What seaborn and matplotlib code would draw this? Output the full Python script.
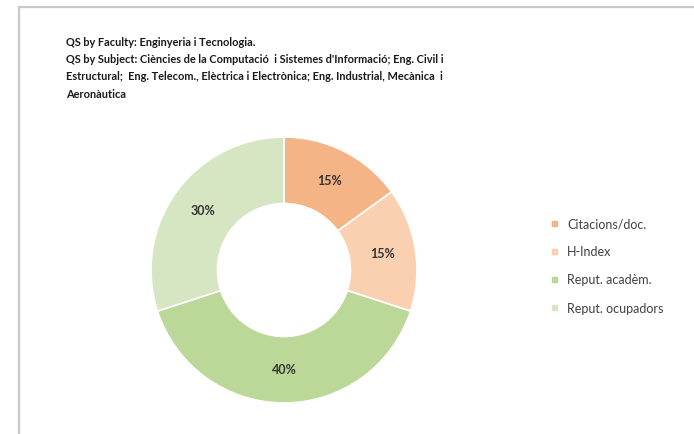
import matplotlib
matplotlib.use("Agg")
import matplotlib.pyplot as plt
import seaborn as sns
from matplotlib.lines import Line2D

# Dades del gràfic
categories = ["Citacions/doc.", "H-Index", "Reput. acadèm.", "Reput. ocupadors"]
weights = [15, 15, 40, 30]
colors = ["#F5B485", "#FAD0B0", "#BCD898", "#D7E6C2"]

title_lines = [
    "QS by Faculty: Enginyeria i Tecnologia.",
    "QS by Subject: Ciències de la Computació  i Sistemes d'Informació; Eng. Civil i",
    "Estructural;  Eng. Telecom., Elèctrica i Electrònica; Eng. Industrial, Mecànica  i",
    "Aeronàutica",
]

sns.set_theme(style="white")
plt.rcParams['font.family'] = ['Lato', 'DejaVu Sans']

fig = plt.figure(figsize=(6.94, 4.34), dpi=100)
fig.patch.set_facecolor("white")

# marc gris (vora superior i esquerra)
fig.add_artist(Line2D([19 / 694, 1.0], [1 - 7 / 434, 1 - 7 / 434], color="#c8c8c8", lw=1.6))
fig.add_artist(Line2D([19 / 694, 19 / 694], [0.0, 1 - 7 / 434], color="#c8c8c8", lw=1.6))

# títol
y0 = 42
for i, line in enumerate(title_lines):
    fig.text(66 / 694, 1 - (y0 + i * 17.5) / 434, line, fontsize=7.9, fontweight="bold",
             color="#1a1a1a", va="center", ha="left")

# donut
ax = fig.add_axes([(284 - 133) / 694, (434 - 270 - 133) / 434, 266 / 694, 266 / 434])
wedges, texts, autotexts = ax.pie(
    weights, colors=colors, startangle=90, counterclock=False,
    autopct="%d%%", pctdistance=0.75,
    wedgeprops=dict(width=0.5, edgecolor="white", linewidth=1.2),
    textprops=dict(fontsize=9, color="#333333", fontweight="bold"),
)
ax.set_xlim(-1, 1)
ax.set_ylim(-1, 1)
ax.set_aspect("equal")
ax.axis("off")

leg = fig.legend(wedges, categories, loc="upper left",
                 bbox_to_anchor=(546 / 694, 1 - 213 / 434),
                 frameon=False, fontsize=9, handlelength=0.6, handleheight=0.6,
                 handletextpad=0.7, labelspacing=1.3, borderaxespad=0)
for t in leg.get_texts():
    t.set_color("#404040")

plt.savefig("out.png", dpi=100)
plt.close()
